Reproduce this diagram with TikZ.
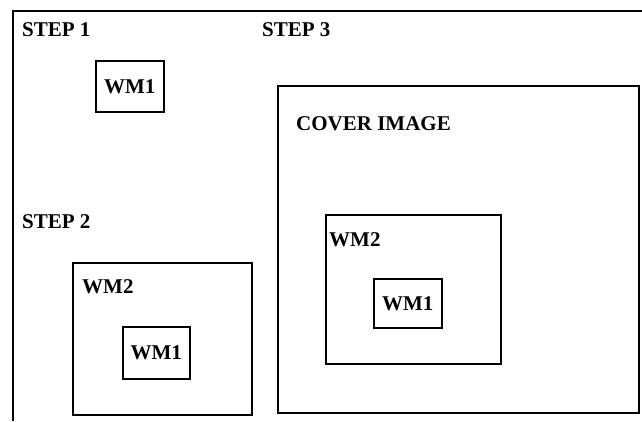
\documentclass[tikz,border=0pt]{standalone}
\usepackage{fontspec}
\setmainfont{Liberation Serif}
\usetikzlibrary{positioning}
\begin{document}
\begin{tikzpicture}[x=1pt, y=-1pt]

\tikzstyle{frame}=[line width=1.8pt]
\tikzstyle{wbox}=[draw, line width=1.6pt, inner sep=0pt, anchor=north west, font=\bfseries\fontsize{21}{25}\selectfont]
\tikzstyle{lbl}=[inner sep=0pt, anchor=base west, font=\bfseries\fontsize{21}{25}\selectfont]

\useasboundingbox (0,0) rectangle (642,421);

% outer frame
\coordinate(F1) at (13,421);
\coordinate(F2) at (13,11);
\coordinate(F3) at (642,11);
\draw[style = frame] (F1) -- (F2) -- (F3);

% step 1
\node(S1t)[style = lbl] at (22,36) {STEP 1};
\node(S1a)[style = wbox, minimum width=68pt, minimum height=51pt] at (95,60) {WM1};

% step 2
\node(S2t)[style = lbl] at (22,228) {STEP 2};
\node(S2b)[style = wbox, minimum width=179pt, minimum height=152pt] at (72,262) {};
\node(S2bt)[style = lbl] at (82,293) {WM2};
\node(S2a)[style = wbox, minimum width=67pt, minimum height=52pt] at (122,326) {WM1};

% step 3
\node(S3t)[style = lbl] at (262,36) {STEP 3};
\node(S3c)[style = wbox, minimum width=361pt, minimum height=327pt] at (277,85) {};
\node(S3ct)[style = lbl] at (296,130) {COVER IMAGE};
\node(S3b)[style = wbox, minimum width=175pt, minimum height=149pt] at (325,214) {};
\node(S3bt)[style = lbl] at (329,246) {WM2};
\node(S3a)[style = wbox, minimum width=68pt, minimum height=49pt] at (373,278) {WM1};

\end{tikzpicture}
\end{document}
